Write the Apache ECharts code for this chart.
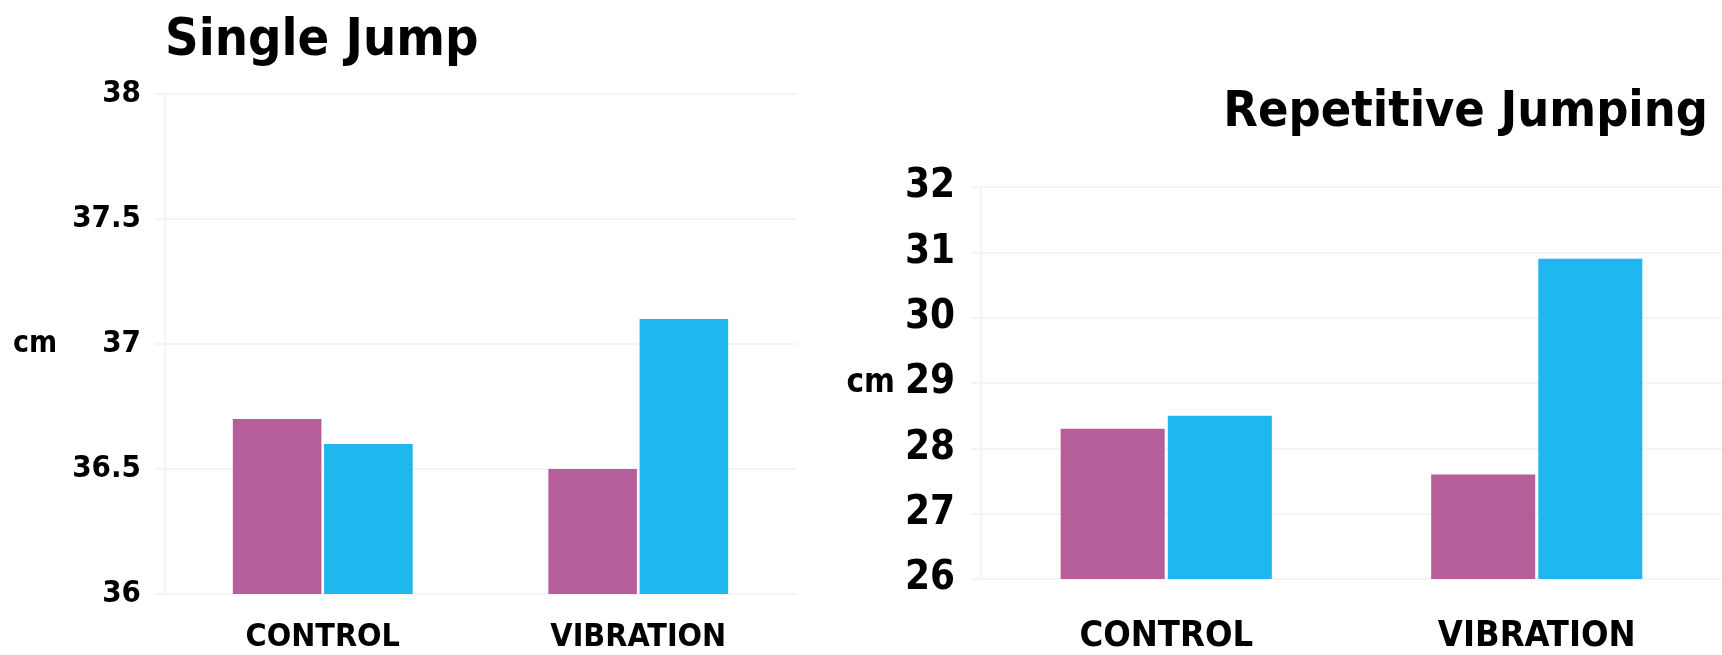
<!DOCTYPE html>
<html>
<head>
<meta charset="utf-8">
<style>
  html, body { margin: 0; padding: 0; background: #fff; }
  #main { width: 1722px; height: 655px; }
</style>
<script src="https://cdn.jsdelivr.net/npm/echarts@6/dist/echarts.min.js"></script>
</head>
<body>
<div id="main"></div>
<script>
// data
var categories = ['CONTROL', 'VIBRATION'];
var singleJumpA = [36.7, 36.5];   // purple
var singleJumpB = [36.6, 37.1];   // blue
var repeatJumpA = [28.3, 27.6];   // purple
var repeatJumpB = [28.5, 30.9];   // blue

var FONT = 'DejaVu Sans Condensed';
var PURPLE = '#b55e99';
var BLUE = '#1eb8ef';
var GRID_LINE = '#f4f4f4';

var chart = echarts.init(document.getElementById('main'));

function yAxisFor(gridIndex, min, max, step, labelSize, nameSize, gap, margin) {
  return {
    type: 'value',
    gridIndex: gridIndex,
    min: min,
    max: max,
    interval: step,
    name: 'cm',
    nameLocation: 'middle',
    nameRotate: 0,
    nameGap: gap,
    nameTextStyle: { color: '#000', fontFamily: FONT, fontWeight: 'bold', fontSize: nameSize },
    axisLine: { show: true, lineStyle: { color: GRID_LINE, width: 2 } },
    axisTick: { show: true, length: 10, lineStyle: { color: GRID_LINE, width: 2 } },
    splitLine: { lineStyle: { color: GRID_LINE, width: 2 } },
    axisLabel: { color: '#000', fontFamily: FONT, fontWeight: 'bold', fontSize: labelSize, margin: margin }
  };
}

function xAxisFor(gridIndex, labelSize, margin) {
  return {
    type: 'category',
    gridIndex: gridIndex,
    data: categories,
    axisLine: { lineStyle: { color: GRID_LINE, width: 2 } },
    axisTick: { length: 10, lineStyle: { color: GRID_LINE, width: 2 } },
    axisLabel: { color: '#000', fontFamily: FONT, fontWeight: 'bold', fontSize: labelSize, margin: margin }
  };
}

function bars(idx, data, color) {
  return {
    type: 'bar',
    xAxisIndex: idx,
    yAxisIndex: idx,
    data: data,
    barGap: '3%',
    barCategoryGap: '43%',
    itemStyle: { color: color }
  };
}

var option = {
  animation: false,
  title: [
    {
      text: 'Single Jump',
      left: 160,
      top: 10,
      textStyle: { fontFamily: FONT, fontWeight: 'bold', fontSize: 52, color: '#000' }
    },
    {
      text: 'Repetitive Jumping',
      right: 9,
      top: 83,
      textStyle: { fontFamily: FONT, fontWeight: 'bold', fontSize: 50, color: '#000' }
    }
  ],
  grid: [
    { left: 165, right: 926, top: 94, bottom: 61 },
    { left: 981, right: -3, top: 187, bottom: 75 }
  ],
  xAxis: [xAxisFor(0, 32, 28), xAxisFor(1, 36, 40)],
  yAxis: [
    yAxisFor(0, 36, 38, 0.5, 31, 30, 108, 24),
    yAxisFor(1, 26, 32, 1, 40, 33, 86, 26)
  ],
  series: [
    bars(0, singleJumpA, PURPLE),
    bars(0, singleJumpB, BLUE),
    bars(1, repeatJumpA, PURPLE),
    bars(1, repeatJumpB, BLUE)
  ]
};

chart.setOption(option);
</script>
</body>
</html>
